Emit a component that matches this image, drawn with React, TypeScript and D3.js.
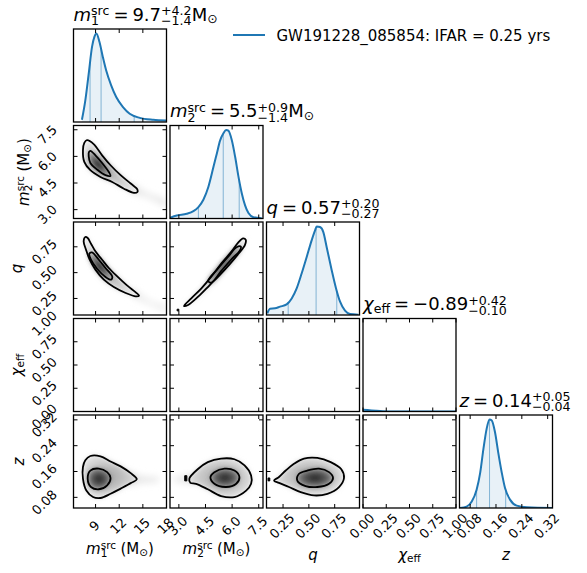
import React from 'react';
import * as d3 from 'd3';

// ---------------- data ----------------
const legendLabel = 'GW191228_085854: IFAR = 0.25 yrs';

const m1Range: [number, number] = [6.2, 18];
const m2Range: [number, number] = [2.5, 7.74];
const qRange: [number, number] = [0.09, 0.99];
const chiRange: [number, number] = [0, 1];
const zRange: [number, number] = [0.047, 0.335];

const m1Ticks = [9, 12, 15, 18];
const m2Ticks = [3.0, 4.5, 6.0, 7.5];
const qTicks = [0.25, 0.5, 0.75];
const chiTicks = [0.0, 0.25, 0.5, 0.75, 1.0];
const zTicks = [0.08, 0.16, 0.24, 0.32];

// 1D marginal densities (relative)
const m1Grid = [7.27, 7.7, 8.13, 8.55, 8.85, 9.11, 9.49, 9.92, 10.34, 10.98, 11.62, 12.48, 13.33, 14.61, 16.31, 17.94];
const m1Dens = [0.025, 0.244, 0.546, 0.849, 0.962, 1.0, 0.905, 0.735, 0.584, 0.414, 0.282, 0.168, 0.093, 0.047, 0.025, 0.017];
const m2Grid = [2.5, 2.88, 3.44, 3.82, 4.1, 4.38, 4.66, 4.95, 5.14, 5.32, 5.51, 5.66, 5.79, 5.98, 6.17, 6.36, 6.55, 6.73, 6.92, 7.2, 7.67];
const m2Dens = [0.008, 0.034, 0.053, 0.083, 0.129, 0.212, 0.356, 0.583, 0.735, 0.879, 0.962, 1.0, 0.992, 0.886, 0.697, 0.47, 0.28, 0.148, 0.061, 0.015, 0.004];
const qGrid = [0.098, 0.124, 0.172, 0.221, 0.285, 0.334, 0.382, 0.43, 0.479, 0.527, 0.56, 0.576, 0.608, 0.64, 0.672, 0.721, 0.763, 0.802, 0.85, 0.898, 0.979];
const qDens = [0.019, 0.071, 0.075, 0.094, 0.12, 0.187, 0.3, 0.468, 0.655, 0.843, 0.955, 1.0, 0.993, 0.936, 0.768, 0.506, 0.3, 0.15, 0.049, 0.011, 0.004];
const chiGrid = [-1.0, -0.97, -0.93, -0.89, -0.85, -0.78, -0.7, -0.6, -0.5, -0.4, -0.3, -0.2, -0.1, 0.0, 0.07, 0.14, 0.21, 0.3, 0.5, 1.0];
const chiDens = [0.35, 0.75, 0.97, 1.0, 0.93, 0.72, 0.5, 0.3, 0.17, 0.1, 0.065, 0.045, 0.03, 0.02, 0.014, 0.008, 0.003, 0.0, 0.0, 0.0];
const zGrid = [0.0486, 0.069, 0.085, 0.1, 0.111, 0.121, 0.131, 0.14, 0.147, 0.157, 0.167, 0.178, 0.188, 0.204, 0.224, 0.255, 0.338];
const zDens = [0.0, 0.015, 0.072, 0.205, 0.394, 0.659, 0.886, 0.992, 0.981, 0.848, 0.621, 0.394, 0.223, 0.091, 0.027, 0.008, 0.0];

// 5%, median, 95%
const m1Quant = [8.3, 9.7, 13.9];
const m2Quant = [4.1, 5.5, 6.4];
const qQuant = [0.3, 0.57, 0.77];
const chiQuant = [-0.99, -0.89, -0.47];
const zQuant = [0.1, 0.14, 0.19];

type P = [number, number];
// 2D credible contours (outer = 90%, inner = 50%)
const m1m2Outer: P[] = [[7.91, 6.91], [8.76, 6.69], [9.83, 6.06], [10.9, 5.5], [12.18, 4.94], [13.46, 4.47], [14.31, 4.13], [14.31, 3.99], [13.88, 3.94], [12.6, 4.18], [11.11, 4.56], [9.62, 4.84], [8.34, 5.22], [7.57, 5.69], [7.4, 6.35], [7.57, 6.76]];
const m1m2Inner: P[] = [[8.34, 6.31], [8.98, 6.06], [9.83, 5.63], [10.68, 5.12], [10.9, 4.9], [10.26, 4.94], [9.19, 5.26], [8.34, 5.63], [8.13, 6.01], [8.17, 6.25]];
const m1m2Tail: P[] = [[13.5, 4.45], [15.5, 3.95], [18.2, 3.45], [18.2, 3.2], [15.5, 3.7], [13.5, 4.0]];

const m1qOuter: P[] = [[7.7, 0.845], [8.0, 0.835], [8.42, 0.78], [8.98, 0.706], [9.83, 0.625], [10.68, 0.545], [11.75, 0.464], [13.03, 0.374], [14.1, 0.309], [14.52, 0.277], [14.1, 0.27], [12.82, 0.303], [11.32, 0.361], [10.05, 0.432], [8.98, 0.529], [8.25, 0.625], [7.79, 0.722], [7.49, 0.803]];
const m1qInner: P[] = [[8.55, 0.696], [9.41, 0.625], [10.26, 0.545], [11.11, 0.464], [10.98, 0.432], [10.26, 0.458], [9.19, 0.538], [8.42, 0.625], [8.21, 0.683]];
const m1qTail: P[] = [[13.5, 0.34], [16, 0.22], [18.2, 0.16], [18.2, 0.13], [16, 0.19], [13.5, 0.29]];

const m2qOuter: P[] = [[3.29, 0.177], [3.7, 0.251], [4.27, 0.348], [4.83, 0.461], [5.4, 0.59], [5.96, 0.703], [6.34, 0.79], [6.62, 0.832], [6.77, 0.816], [6.72, 0.767], [6.38, 0.687], [5.87, 0.583], [5.3, 0.477], [4.74, 0.38], [4.18, 0.283], [3.52, 0.187]];
const m2qInner: P[] = [[4.65, 0.422], [5.21, 0.541], [5.78, 0.654], [6.25, 0.745], [6.49, 0.751], [6.43, 0.712], [5.96, 0.629], [5.4, 0.519], [4.83, 0.403]];
const m2qDot: P[] = [[2.9, 0.146], [3.0, 0.146], [3.0, 0.13], [2.9, 0.13]];

const m1zOuter: P[] = [[7.7, 0.195], [8.34, 0.208], [9.62, 0.207], [10.9, 0.191], [12.18, 0.176], [13.46, 0.155], [14.23, 0.136], [13.54, 0.125], [12.18, 0.107], [10.9, 0.091], [9.62, 0.078], [8.68, 0.081], [7.83, 0.101], [7.4, 0.138], [7.4, 0.174]];
const m1zInner: P[] = [[8.34, 0.163], [9.41, 0.169], [10.47, 0.158], [10.9, 0.14], [10.47, 0.117], [9.41, 0.105], [8.42, 0.112], [8.0, 0.138]];
const m1zTail: P[] = [[13, 0.16], [15, 0.145], [17, 0.139], [17, 0.13], [15, 0.125], [13, 0.118]];

const m2zOuter: P[] = [[3.59, 0.138], [4.06, 0.167], [4.63, 0.189], [5.38, 0.2], [6.13, 0.198], [6.7, 0.179], [7.07, 0.148], [7.07, 0.122], [6.79, 0.101], [6.13, 0.081], [5.38, 0.084], [4.63, 0.105], [3.97, 0.122], [3.65, 0.125]];
const m2zInner: P[] = [[5.0, 0.158], [5.57, 0.169], [6.13, 0.163], [6.41, 0.143], [6.23, 0.122], [5.66, 0.112], [5.0, 0.122], [4.78, 0.143]];
const m2zDot: P[] = [[3.33, 0.147], [3.45, 0.147], [3.45, 0.131], [3.33, 0.131]];
const m2zTail: P[] = [[3.8, 0.15], [3.0, 0.143], [2.7, 0.139], [2.7, 0.131], [3.0, 0.128], [3.8, 0.125]];

const qzOuter: P[] = [[0.163, 0.132], [0.211, 0.143], [0.276, 0.163], [0.356, 0.184], [0.453, 0.2], [0.582, 0.202], [0.711, 0.189], [0.814, 0.167], [0.84, 0.14], [0.792, 0.112], [0.679, 0.091], [0.55, 0.086], [0.421, 0.096], [0.308, 0.112], [0.211, 0.125]];
const qzInner: P[] = [[0.405, 0.153], [0.485, 0.163], [0.598, 0.169], [0.695, 0.158], [0.734, 0.14], [0.695, 0.122], [0.582, 0.112], [0.469, 0.115], [0.388, 0.132]];
const qzDot: P[] = [[0.105, 0.14], [0.122, 0.14], [0.122, 0.131], [0.105, 0.131]];

// ---------------- layout / style ----------------
const W = 587, H = 573;
const LEFT = 73.5, TOP = 29, PANEL = 93, STEP = 96.5;
const BLUE = '#1f77b4';
const FONT = '"DejaVu Sans", sans-serif';
const TICK_FS = 13;
const LABEL_FS = 15;
const TITLE_FS = 18;

type Part = { t?: string; it?: boolean; sup?: string; sub?: string; sp?: number };

let ctx: CanvasRenderingContext2D | null = null;
function measure(text: string, size: number, italic = false): number {
  if (!ctx) ctx = document.createElement('canvas').getContext('2d');
  if (!ctx) return text.length * size * 0.6;
  ctx.font = `${italic ? 'italic ' : ''}${size}px "DejaVu Sans"`;
  return ctx.measureText(text).width;
}

function MathText({ x, y, parts, size, anchor = 'start', rotate = 0 }: { x: number; y: number; parts: Part[]; size: number; anchor?: string; rotate?: number }) {
  const ss = size * 0.7;
  let cx = 0;
  const els: any[] = [];
  parts.forEach((p, i) => {
    if (p.sp !== undefined) { cx += p.sp * size; return; }
    if (p.t !== undefined) {
      els.push(<text key={i} x={cx} y={0} fontSize={size} fontStyle={p.it ? 'italic' : 'normal'} style={{ whiteSpace: 'pre' }}>{p.t}</text>);
      cx += measure(p.t, size, p.it);
      return;
    }
    let w = 0;
    const both = p.sup !== undefined && p.sub !== undefined;
    if (p.sup !== undefined) {
      els.push(<text key={i + 'a'} x={cx} y={-size * 0.3} fontSize={ss}>{p.sup}</text>);
      w = Math.max(w, measure(p.sup, ss));
    }
    if (p.sub !== undefined) {
      els.push(<text key={i + 'b'} x={cx} y={both ? size * 0.25 : size * 0.15} fontSize={ss}>{p.sub}</text>);
      w = Math.max(w, measure(p.sub, ss));
    }
    cx += w;
  });
  const off = anchor === 'middle' ? -cx / 2 : anchor === 'end' ? -cx : 0;
  return (
    <g transform={`translate(${x},${y}) rotate(${rotate}) translate(${off},0)`} fontFamily={FONT} fill="#000">
      {els}
    </g>
  );
}

const ranges = [m1Range, m2Range, qRange, chiRange, zRange];
const tickSets = [m1Ticks, m2Ticks, qTicks, chiTicks, zTicks];
const tickFormats = [d3.format('d'), d3.format('.1f'), d3.format('.2f'), d3.format('.2f'), d3.format('.2f')];
const grids = [m1Grid, m2Grid, qGrid, chiGrid, zGrid];
const dens = [m1Dens, m2Dens, qDens, chiDens, zDens];
const quants = [m1Quant, m2Quant, qQuant, chiQuant, zQuant];
const decimals = [1, 1, 2, 2, 2];
const nameParts: Part[][] = [
  [{ t: 'm', it: true }, { sup: 'src', sub: '1' }],
  [{ t: 'm', it: true }, { sup: 'src', sub: '2' }],
  [{ t: 'q', it: true }],
  [{ t: 'χ', it: true }, { sub: 'eff' }],
  [{ t: 'z', it: true }],
];
const unitParts: Part[][] = [
  [{ t: 'M' }, { sub: '⊙' }],
  [{ t: 'M' }, { sub: '⊙' }],
  [], [], [],
];
const axisUnit: Part[][] = [
  [{ sp: 0.3 }, { t: '(M' }, { sub: '⊙' }, { t: ')' }],
  [{ sp: 0.3 }, { t: '(M' }, { sub: '⊙' }, { t: ')' }],
  [], [], [],
];
// per-variable label placement (left: x of baseline, bottom: baseline y)
const yLabelX = [0, 28.5, 21.5, 22, 24];
const xLabelY = [553.5, 553.5, 560, 560, 560];

const pairs: Record<string, { outer: P[]; inner: P[]; tail?: P[]; dot?: P[] }> = {
  '1-0': { outer: m1m2Outer, inner: m1m2Inner, tail: m1m2Tail },
  '2-0': { outer: m1qOuter, inner: m1qInner, tail: m1qTail },
  '2-1': { outer: m2qOuter, inner: m2qInner, dot: m2qDot },
  '4-0': { outer: m1zOuter, inner: m1zInner, tail: m1zTail },
  '4-1': { outer: m2zOuter, inner: m2zInner, dot: m2zDot, tail: m2zTail },
  '4-2': { outer: qzOuter, inner: qzInner, dot: qzDot },
};

const fmtSigned = (v: number, d: number) => v.toFixed(d).replace('-', '−');

function xs(i: number) { return d3.scaleLinear().domain(ranges[i]).range([0, PANEL]); }
function ys(i: number) { return d3.scaleLinear().domain(ranges[i]).range([PANEL, 0]); }

function Ticks({ xi, yi }: { xi: number; yi: number | null }) {
  const x = xs(xi);
  const L = 4;
  const out: any[] = [];
  tickSets[xi].forEach((t, k) => {
    const px = x(t);
    out.push(<line key={'xt' + k} x1={px} x2={px} y1={0} y2={L} />);
    out.push(<line key={'xb' + k} x1={px} x2={px} y1={PANEL} y2={PANEL - L} />);
  });
  if (yi !== null) {
    const y = ys(yi);
    tickSets[yi].forEach((t, k) => {
      const py = y(t);
      out.push(<line key={'yl' + k} x1={0} x2={L} y1={py} y2={py} />);
      out.push(<line key={'yr' + k} x1={PANEL} x2={PANEL - L} y1={py} y2={py} />);
    });
  }
  return <g stroke="#000" strokeWidth={1}>{out}</g>;
}

function OneD({ i }: { i: number }) {
  const x = xs(i);
  const yMax = (d3.max(dens[i]) as number) * 1.05;
  const y = d3.scaleLinear().domain([0, yMax]).range([PANEL, 0]);
  const pts: P[] = grids[i].map((g, k) => [g, dens[i][k]]);
  const line = d3.line<P>().x(d => x(d[0])).y(d => y(d[1])).curve(d3.curveMonotoneX);
  const area = d3.area<P>().x(d => x(d[0])).y0(y(0)).y1(d => y(d[1])).curve(d3.curveMonotoneX);
  const interp = d3.scaleLinear().domain(grids[i]).range(dens[i]).clamp(true);
  return (
    <g>
      <path d={area(pts) || ''} fill={BLUE} fillOpacity={0.1} />
      {quants[i].map((qv, k) => (
        <line key={k} x1={x(qv)} x2={x(qv)} y1={y(0)} y2={y(interp(qv))} stroke={BLUE} strokeOpacity={0.5} strokeWidth={1} />
      ))}
      <path d={line(pts) || ''} fill="none" stroke={BLUE} strokeWidth={2} />
    </g>
  );
}

function TwoD({ xi, yi, pair }: { xi: number; yi: number; pair?: { outer: P[]; inner: P[]; tail?: P[]; dot?: P[] } }) {
  if (!pair) return null;
  const x = xs(xi), y = ys(yi);
  const closed = d3.line<P>().x(d => x(d[0])).y(d => y(d[1])).curve(d3.curveCatmullRomClosed.alpha(0.5));
  const lin = d3.line<P>().x(d => x(d[0])).y(d => y(d[1])).curve(d3.curveLinearClosed);
  return (
    <g>
      {pair.tail && <path d={closed(pair.tail) || ''} fill="#e6e6e6" filter="url(#blurB)" />}
      <path d={closed(pair.outer) || ''} fill="url(#outerGrad)" filter="url(#blurA)" />
      <path d={closed(pair.inner) || ''} fill="url(#coreGrad)" filter="url(#blurA)" />
      <path d={closed(pair.outer) || ''} fill="none" stroke="#000" strokeWidth={1.8} />
      <path d={closed(pair.inner) || ''} fill="none" stroke="#000" strokeWidth={1.8} />
      {pair.dot && <path d={lin(pair.dot) || ''} fill="#000" stroke="#000" strokeWidth={1} />}
    </g>
  );
}

export default function App() {
  const panels: any[] = [];
  for (let r = 0; r < 5; r++) {
    for (let c = 0; c <= r; c++) {
      const px = LEFT + c * STEP, py = TOP + r * STEP;
      const id = `clip-${r}-${c}`;
      panels.push(
        <g key={id} transform={`translate(${px},${py})`}>
          <clipPath id={id}><rect x={0} y={0} width={PANEL} height={PANEL} /></clipPath>
          <g clipPath={`url(#${id})`}>
            {r === c ? <OneD i={c} /> : <TwoD xi={c} yi={r} pair={pairs[`${r}-${c}`]} />}
          </g>
          <Ticks xi={c} yi={r === c ? null : r} />
          <rect x={0} y={0} width={PANEL} height={PANEL} fill="none" stroke="#000" strokeWidth={1.3} />
        </g>
      );
    }
  }

  // titles
  const titles = [0, 1, 2, 3, 4].map(i => {
    const [lo, med, hi] = quants[i];
    const d = decimals[i];
    const parts: Part[] = [
      ...nameParts[i], { sp: 0.22 }, { t: '=' }, { sp: 0.22 }, { t: fmtSigned(med, d) },
      { sup: '+' + (hi - med).toFixed(d), sub: '−' + (med - lo).toFixed(d) },
      ...unitParts[i],
    ];
    return <MathText key={'title' + i} x={LEFT + i * STEP} y={TOP + i * STEP - 8.3} parts={parts} size={TITLE_FS} />;
  });

  // tick labels
  const tickLabels: any[] = [];
  const bottom = TOP + 4 * STEP + PANEL;
  for (let c = 0; c < 5; c++) {
    const x = xs(c);
    tickSets[c].forEach((t, k) => {
      const cx = LEFT + c * STEP + x(t) - 1;
      const cy = bottom + 18;
      tickLabels.push(
        <text key={`xl${c}-${k}`} transform={`translate(${cx},${cy}) rotate(-45)`} textAnchor="middle" dominantBaseline="central" fontSize={TICK_FS} fontFamily={FONT}>
          {tickFormats[c](t)}
        </text>
      );
    });
  }
  for (let r = 1; r < 5; r++) {
    const y = ys(r);
    tickSets[r].forEach((t, k) => {
      const s = tickFormats[r](t);
      const w = measure(s, TICK_FS);
      const ext = 0.7071 * (w + 0.73 * TICK_FS);
      const cx = 58 - ext / 2;
      const cy = TOP + r * STEP + y(t) + 5;
      tickLabels.push(
        <text key={`yl${r}-${k}`} transform={`translate(${cx},${cy}) rotate(-45)`} textAnchor="middle" dominantBaseline="central" fontSize={TICK_FS} fontFamily={FONT}>
          {s}
        </text>
      );
    });
  }

  const axisLabels: any[] = [];
  for (let c = 0; c < 5; c++) {
    axisLabels.push(
      <MathText key={'xlab' + c} x={LEFT + c * STEP + PANEL / 2} y={xLabelY[c]} parts={[...nameParts[c], ...axisUnit[c]]} size={LABEL_FS} anchor="middle" />
    );
  }
  for (let r = 1; r < 5; r++) {
    axisLabels.push(
      <MathText key={'ylab' + r} x={yLabelX[r]} y={TOP + r * STEP + PANEL / 2} parts={[...nameParts[r], ...axisUnit[r]]} size={LABEL_FS} anchor="middle" rotate={-90} />
    );
  }

  return (
    <svg width={W} height={H} style={{ position: 'absolute', left: 0, top: 0, background: '#fff' }} fontFamily={FONT}>
      <defs>
        <filter id="blurA" x="-50%" y="-50%" width="200%" height="200%"><feGaussianBlur stdDeviation={2.6} /></filter>
        <filter id="blurB" x="-50%" y="-50%" width="200%" height="200%"><feGaussianBlur stdDeviation={3.5} /></filter>
        <radialGradient id="coreGrad" cx="50%" cy="50%" r="55%">
          <stop offset="0%" stopColor="#1e1e1e" />
          <stop offset="55%" stopColor="#555" />
          <stop offset="100%" stopColor="#959595" />
        </radialGradient>
        <radialGradient id="outerGrad" cx="50%" cy="50%" r="60%">
          <stop offset="0%" stopColor="#a8a8a8" />
          <stop offset="60%" stopColor="#cccccc" />
          <stop offset="100%" stopColor="#e4e4e4" />
        </radialGradient>
      </defs>
      <rect x={0} y={0} width={W} height={H} fill="#fff" />
      {panels}
      {titles}
      {tickLabels}
      {axisLabels}
      <g>
        <line x1={233} x2={265} y1={35} y2={35} stroke={BLUE} strokeWidth={2} />
        <text x={276.5} y={40.5} fontSize={15} fontFamily={FONT}>{legendLabel}</text>
      </g>
    </svg>
  );
}
